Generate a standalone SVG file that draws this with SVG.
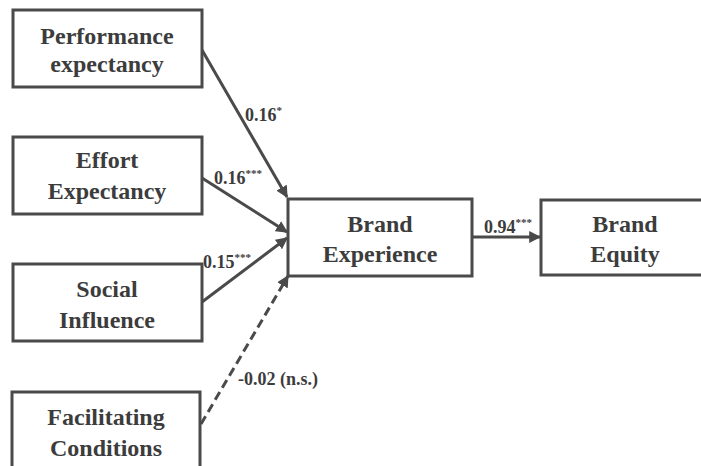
<svg xmlns="http://www.w3.org/2000/svg" width="701" height="466" viewBox="0 0 701 466">
<style>
.box{fill:#fff;stroke:#4a4a4a;stroke-width:3}
.t{font-family:"Liberation Serif","Times New Roman",serif;font-weight:bold;font-size:24px;fill:#3c3c3c;text-anchor:middle}
.l{font-family:"Liberation Serif","Times New Roman",serif;font-weight:bold;font-size:18px;fill:#3c3c3c}
.sup{font-size:11px}
.c{stroke:#4a4a4a;stroke-width:3;fill:none}
.d{stroke-dasharray:9,5}
</style>
<defs>
<marker id="ah" viewBox="0 0 10 10" refX="9" refY="5" markerWidth="4" markerHeight="4" orient="auto" markerUnits="strokeWidth">
<path d="M0,0 L10,5 L0,10 z" fill="#4a4a4a"/>
</marker>
</defs>
<rect width="701" height="466" fill="#fff"/>
<g id="connectors">
<line class="c" x1="202" y1="50" x2="287" y2="197" marker-end="url(#ah)"/>
<line class="c" x1="202" y1="178" x2="287" y2="232" marker-end="url(#ah)"/>
<line class="c" x1="202" y1="302" x2="287" y2="238" marker-end="url(#ah)"/>
<line class="c d" x1="201" y1="424" x2="288" y2="276" marker-end="url(#ah)"/>
<line class="c" x1="472" y1="237" x2="540" y2="237" marker-end="url(#ah)"/>
<text class="l" x="245" y="121">0.16<tspan class="sup" dy="-7">*</tspan></text>
<text class="l" x="214" y="184">0.16<tspan class="sup" dy="-7">***</tspan></text>
<text class="l" x="203" y="268">0.15<tspan class="sup" dy="-7">***</tspan></text>
<text class="l" x="238" y="385">-0.02 (n.s.)</text>
<text class="l" x="484" y="233">0.94<tspan class="sup" dy="-7">***</tspan></text>
</g>
<g id="performance">
<rect class="box" x="13" y="10" width="189" height="77"/>
<text class="t" x="107" y="44">Performance</text>
<text class="t" x="107" y="72">expectancy</text>
</g>
<g id="effort">
<rect class="box" x="13" y="137" width="189" height="77"/>
<text class="t" x="107" y="168">Effort</text>
<text class="t" x="107" y="199">Expectancy</text>
</g>
<g id="social">
<rect class="box" x="13" y="264" width="189" height="77"/>
<text class="t" x="107" y="297">Social</text>
<text class="t" x="107" y="328">Influence</text>
</g>
<g id="facilitating">
<rect class="box" x="12" y="392" width="188" height="80"/>
<text class="t" x="106" y="425">Facilitating</text>
<text class="t" x="106" y="456">Conditions</text>
</g>
<g id="brand-experience">
<rect class="box" x="288" y="199" width="184" height="77"/>
<text class="t" x="380" y="232">Brand</text>
<text class="t" x="380" y="262">Experience</text>
</g>
<g id="brand-equity">
<rect class="box" x="541" y="200" width="170" height="75"/>
<text class="t" x="625" y="232">Brand</text>
<text class="t" x="625" y="262">Equity</text>
</g>
</svg>
